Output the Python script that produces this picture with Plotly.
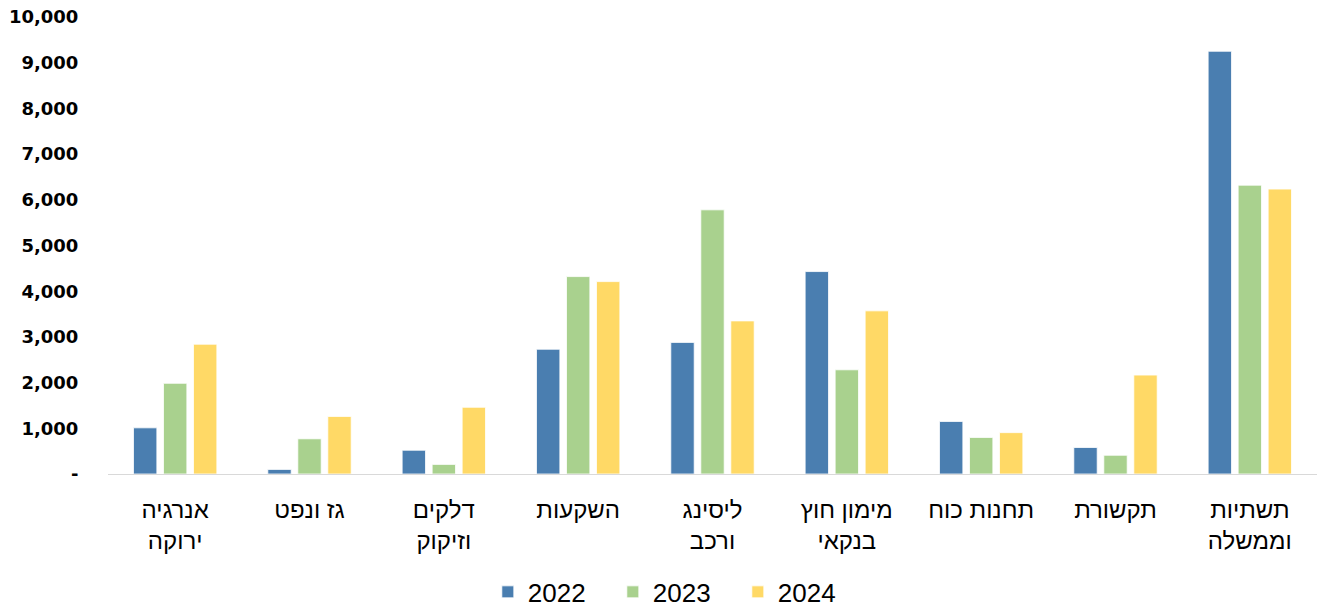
import plotly.graph_objects as go

categories = [
    "אנרגיה<br>ירוקה",
    "גז ונפט",
    "דלקים<br>וזיקוק",
    "השקעות",
    "ליסינג<br>ורכב",
    "מימון חוץ<br>בנקאי",
    "תחנות כוח",
    "תקשורת",
    "תשתיות<br>וממשלה",
]
years = ["2022", "2023", "2024"]
values_2022 = [1010, 100, 520, 2730, 2880, 4430, 1150, 580, 9250]
values_2023 = [1985, 770, 210, 4320, 5780, 2280, 800, 410, 6320]
values_2024 = [2840, 1260, 1460, 4210, 3350, 3570, 905, 2165, 6235]
colors = ["#4A7EB0", "#A9D18E", "#FFD966"]

tick_vals = [0, 1000, 2000, 3000, 4000, 5000, 6000, 7000, 8000, 9000, 10000]
tick_text = ["-", "1,000", "2,000", "3,000", "4,000", "5,000",
             "6,000", "7,000", "8,000", "9,000", "10,000"]

fig = go.Figure()
for name, vals, col in zip(years, [values_2022, values_2023, values_2024], colors):
    fig.add_trace(go.Bar(
        x=categories, y=vals, name=name,
        marker=dict(color=col, line=dict(color="rgba(255,255,255,0.8)", width=1)),
    ))

fig.update_layout(
    width=1319, height=609,
    margin=dict(l=108, r=2, t=17, b=135),
    paper_bgcolor="white", plot_bgcolor="white",
    barmode="group", bargap=0.33, bargroupgap=0.22,
    font=dict(family="Liberation Sans, Arial", color="#000000"),
    showlegend=True,
    legend=dict(
        orientation="h", xref="container", yref="container",
        x=0.512, xanchor="center", y=0.028, yanchor="middle",
        font=dict(size=26, family="Liberation Sans, Arial"),
        entrywidth=80, entrywidthmode="pixels",
    ),
)
fig.update_xaxes(
    showline=True, linecolor="#D9D9D9", linewidth=1,
    showgrid=False, ticks="outside", ticklen=14, tickcolor="rgba(0,0,0,0)",
    tickfont=dict(size=24, family="Liberation Sans, Arial"),
    tickangle=0,
)
fig.update_yaxes(
    range=[0, 10000], tickvals=tick_vals, ticktext=tick_text,
    showgrid=False, zeroline=False, showline=False,
    ticks="outside", ticklen=25, tickcolor="rgba(0,0,0,0)",
    tickfont=dict(size=18, family="DejaVu Sans", weight="bold"),
)

fig.write_html("out.html")
